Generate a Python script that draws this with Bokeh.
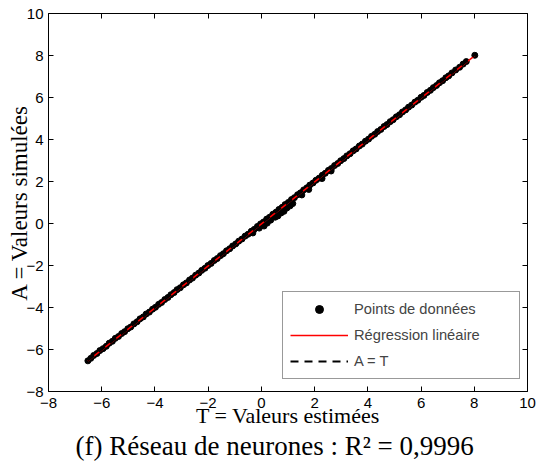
import numpy as np
from bokeh.plotting import figure
from bokeh.models import Range1d, LinearAxis, FixedTicker, Title
from bokeh.embed import file_html
from bokeh.resources import INLINE

# ---- data ----
t_main = [-6.52, -6.41, -6.30, -6.18, -6.07, -5.95, -5.83, -5.72, -5.60, -5.49,
          -5.37, -5.25, -5.14, -5.02, -4.91, -4.79, -4.67, -4.56, -4.44, -4.33,
          -4.21, -4.09, -3.98, -3.86, -3.75, -3.63, -3.51, -3.40, -3.28, -3.17,
          -3.05, -2.93, -2.82, -2.70, -2.59, -2.47, -2.35, -2.24, -2.12, -2.01,
          -1.89, -1.77, -1.66, -1.54, -1.43, -1.31, -1.19, -1.08, -0.96, -0.85,
          -0.73, -0.61, -0.50, -0.38, -0.27, -0.15, -0.03, 0.08, 0.20, 0.31,
          0.43, 0.55, 0.66, 0.78, 0.89, 1.01, 1.13, 1.24, 1.36, 1.47,
          1.59, 1.71, 1.82, 1.94, 2.05, 2.17, 2.29, 2.40, 2.52, 2.63,
          2.75, 2.87, 2.98, 3.10, 3.21, 3.33, 3.45, 3.56, 3.68, 3.79,
          3.91, 4.03, 4.14, 4.26, 4.37, 4.49, 4.61, 4.72, 4.84, 4.95,
          5.07, 5.19, 5.30, 5.42, 5.53, 5.65, 5.77, 5.88, 6.00, 6.11,
          6.23, 6.35, 6.46, 6.58, 6.69, 6.81, 6.93, 7.04, 7.16, 7.30,
          7.45, 7.58, 7.70, 8.02]
a_main = [-6.54, -6.42, -6.28, -6.19, -6.05, -5.96, -5.85, -5.70, -5.61, -5.47,
          -5.38, -5.24, -5.15, -5.01, -4.93, -4.78, -4.68, -4.54, -4.45, -4.31,
          -4.22, -4.08, -3.99, -3.85, -3.76, -3.62, -3.52, -3.39, -3.29, -3.15,
          -3.06, -2.92, -2.83, -2.69, -2.60, -2.46, -2.36, -2.23, -2.13, -2.00,
          -1.90, -1.76, -1.67, -1.53, -1.44, -1.30, -1.20, -1.07, -0.97, -0.84,
          -0.74, -0.60, -0.51, -0.37, -0.28, -0.14, -0.02, 0.07, 0.21, 0.30,
          0.44, 0.54, 0.67, 0.77, 0.90, 1.00, 1.14, 1.23, 1.37, 1.46,
          1.60, 1.70, 1.83, 1.93, 2.06, 2.16, 2.30, 2.39, 2.53, 2.62,
          2.76, 2.86, 2.99, 3.09, 3.22, 3.32, 3.46, 3.55, 3.69, 3.78,
          3.92, 4.02, 4.15, 4.25, 4.38, 4.48, 4.62, 4.71, 4.85, 4.94,
          5.08, 5.18, 5.31, 5.41, 5.54, 5.64, 5.78, 5.87, 6.01, 6.10,
          6.24, 6.34, 6.47, 6.57, 6.70, 6.80, 6.94, 7.03, 7.17, 7.31,
          7.44, 7.59, 7.71, 8.01]
t_cluster = [-0.32, -0.08, 0.10, 0.22, 0.35, 0.52, 0.62, 0.74, 0.85,
             0.96, 1.08, 1.18, 1.52, 1.78, 2.28, 2.62]
a_cluster = [-0.45, -0.22, -0.12, 0.02, 0.16, 0.30, 0.36, 0.50, 0.58,
             0.74, 0.84, 0.95, 1.36, 1.62, 2.14, 2.50]
x_ticks = [-8, -6, -4, -2, 0, 2, 4, 6, 8, 10]
y_ticks = [-8, -6, -4, -2, 0, 2, 4, 6, 8, 10]

t_all = np.array(t_main + t_cluster)
a_all = np.array(a_main + a_cluster)
slope, intercept = np.polyfit(t_all, a_all, 1)
line_t = np.array([t_all.min(), t_all.max()])
reg_a = slope * line_t + intercept

W, H = 540, 462
p = figure(width=W, height=H, output_backend="svg", toolbar_location=None,
           x_range=Range1d(-8, 10), y_range=Range1d(-8, 10),
           min_border_left=48, min_border_right=W - 527, min_border_top=13,
           min_border_bottom=H - 391,
           x_axis_location=None, y_axis_location=None)
p.grid.visible = False
p.outline_line_color = None
p.background_fill_color = "white"
p.border_fill_color = "white"

serif = "Liberation Serif"

def ovr(ticks):
    return {t: str(t).replace("-", "\u2212") for t in ticks}

def style(ax, ticks, show):
    ax.ticker = FixedTicker(ticks=ticks)
    ax.minor_tick_line_color = None
    ax.major_tick_in = 5
    ax.major_tick_out = 0
    ax.axis_line_color = "black"
    ax.major_tick_line_color = "black"
    if show:
        ax.major_label_overrides = ovr(ticks)
        ax.major_label_text_font = "Liberation Sans"
        ax.major_label_text_font_size = "15px"
        ax.major_label_text_color = "black"
        ax.axis_label_text_font = serif
        ax.axis_label_text_font_size = "22px"
        ax.axis_label_text_font_style = "normal"
        ax.axis_label_text_color = "black"
    else:
        ax.major_label_text_color = None
        ax.major_label_text_font_size = "0px"
        ax.major_label_standoff = 0

bx = LinearAxis(axis_label="T = Valeurs estimées")
style(bx, x_ticks, True)
bx.major_label_standoff = 6
bx.axis_label_standoff = -8
ly = LinearAxis(axis_label="A = Valeurs simulées")
style(ly, y_ticks, True)
ly.major_label_standoff = 5
ly.axis_label_standoff = -9
ly.axis_label_text_font_size = "23px"
tx = LinearAxis(); style(tx, x_ticks, False)
ry = LinearAxis(); style(ry, y_ticks, False)
p.add_layout(bx, "below")
p.add_layout(ly, "left")
p.add_layout(tx, "above")
p.add_layout(ry, "right")

p.scatter(t_all, a_all, size=6, color="black", legend_label="Points de données")
p.line(line_t, reg_a, color="#ff0000", line_width=1.5, legend_label="Régression linéaire")
p.line(line_t, line_t, color="black", line_width=2, line_dash="8 6", legend_label="A = T")

lg = p.legend[0]
lg.location = (234, 12)
lg.border_line_color = "#333333"
lg.border_line_width = 1
lg.background_fill_alpha = 1
lg.padding = 7
lg.margin = 0
lg.spacing = 6
lg.glyph_width = 58
lg.glyph_height = 20
lg.label_height = 20
lg.label_width = 158
lg.label_standoff = 6
lg.label_text_font = "Liberation Sans"
lg.label_text_font_size = "14.7px"
lg.label_text_baseline = "middle"

cap = Title(text="(f) Réseau de neurones : R² = 0,9996", align="left",
            text_font=serif, text_font_size="27px", text_font_style="normal",
            text_color="black", offset=27, standoff=-3)
p.add_layout(cap, "below")

open("out.html", "w").write(file_html(p, INLINE))
